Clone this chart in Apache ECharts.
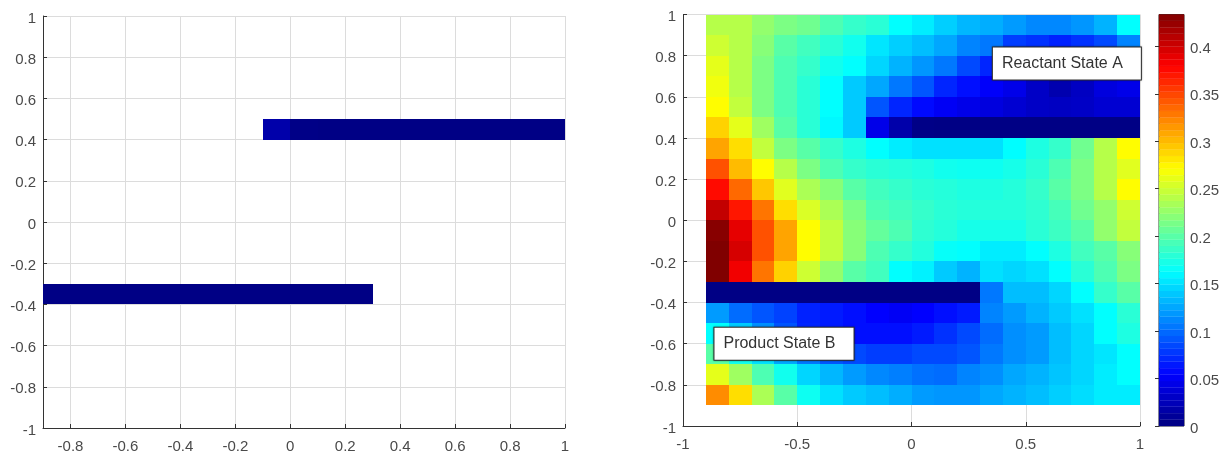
<!DOCTYPE html>
<html>
<head>
<meta charset="utf-8">
<style>html,body{margin:0;padding:0;background:#fff}#c{width:1227px;height:454px}</style>
<script src="https://cdn.jsdelivr.net/npm/echarts@6/dist/echarts.min.js"></script>
</head>
<body>
<div id="c"></div>
<script>
// left edge of each cell column, bottom edge of each row (top row first)
const xEdges = [-0.9,-0.8,-0.7,-0.6,-0.5,-0.4,-0.3,-0.2,-0.1,0,0.1,0.2,0.3,0.4,0.5,0.6,0.7,0.8,0.9];
const yEdges = [0.9,0.8,0.7,0.6,0.5,0.4,0.3,0.2,0.1,0,-0.1,-0.2,-0.3,-0.4,-0.5,-0.6,-0.7,-0.8,-0.9];
const cellSize = 0.1;
const heatValues = [
 [.24,.24,.225,.215,.21,.195,.185,.18,.163,.155,.142,.132,.128,.12,.112,.112,.118,.13,.163],
 [.25,.24,.22,.2,.19,.18,.17,.152,.142,.135,.125,.11,.105,.08,.075,.068,.075,.085,.11],
 [.26,.24,.215,.195,.185,.17,.163,.145,.13,.118,.105,.085,.07,.06,.05,.045,.05,.055,.07],
 [.265,.24,.215,.195,.18,.163,.14,.125,.105,.09,.07,.06,.052,.045,.03,.02,.028,.04,.045],
 [.272,.245,.215,.195,.18,.163,.14,.09,.07,.058,.05,.045,.04,.035,.03,.028,.03,.035,.035],
 [.29,.26,.23,.2,.18,.16,.14,.045,.018,.003,.002,.002,.002,.002,.002,.002,.002,.002,.002],
 [.31,.285,.245,.215,.2,.185,.175,.163,.155,.15,.15,.15,.15,.162,.175,.185,.21,.24,.272],
 [.345,.3,.272,.24,.215,.195,.185,.18,.178,.175,.17,.168,.168,.172,.18,.195,.215,.24,.258],
 [.375,.335,.295,.258,.235,.22,.2,.19,.185,.18,.178,.175,.175,.178,.185,.2,.215,.24,.272],
 [.405,.37,.33,.285,.255,.235,.215,.195,.19,.185,.18,.178,.178,.178,.182,.192,.21,.225,.25],
 [.43,.39,.345,.31,.272,.245,.22,.205,.195,.182,.178,.172,.172,.172,.18,.188,.2,.225,.245],
 [.435,.397,.345,.31,.272,.245,.22,.195,.185,.177,.165,.163,.155,.155,.163,.175,.19,.2,.22],
 [.435,.385,.33,.29,.25,.225,.2,.19,.163,.157,.14,.13,.15,.145,.15,.163,.18,.195,.215],
 [.002,.002,.002,.002,.002,.002,.002,.002,.002,.002,.002,.002,.105,.135,.135,.145,.163,.185,.2],
 [.12,.1,.09,.082,.068,.065,.06,.054,.05,.054,.06,.065,.11,.12,.13,.14,.15,.163,.18],
 [.163,.14,.115,.09,.07,.065,.06,.06,.06,.065,.075,.085,.1,.115,.12,.135,.145,.163,.175],
 [.2,.17,.15,.125,.105,.09,.085,.08,.08,.085,.085,.09,.105,.115,.12,.135,.145,.152,.163],
 [.26,.23,.195,.17,.145,.132,.12,.112,.108,.102,.1,.11,.115,.125,.13,.138,.145,.155,.163],
 [.32,.285,.235,.2,.168,.15,.14,.135,.128,.12,.118,.118,.125,.13,.135,.142,.148,.155,.155]
];
// left panel: only the cells of the two barrier bands
const leftUpperBandX = [-0.1,0,0.1,0.2,0.3,0.4,0.5,0.6,0.7,0.8,0.9];
const leftUpperBandY = 0.4;
const leftUpperBandV = [.018,.003,.002,.002,.002,.002,.002,.002,.002,.002,.002];
const leftLowerBandX = [-0.9,-0.8,-0.7,-0.6,-0.5,-0.4,-0.3,-0.2,-0.1,0,0.1,0.2];
const leftLowerBandY = -0.4;
const leftLowerBandV = [.002,.002,.002,.002,.002,.002,.002,.002,.002,.002,.002,.002];

const leftXTicks = [-0.8,-0.6,-0.4,-0.2,0,0.2,0.4,0.6,0.8,1];
const colorMax = 0.4336;
const jetStops = ['#000080','#0000ff','#0080ff','#00ffff','#80ff80','#ffff00','#ff8000','#ff0000','#800000'];
const colorbarLevelCount = 64;
const annotations = [
  {name:'Reactant State A', x:0.68, y:0.762},
  {name:'Product State B', x:-0.558, y:-0.6}
];

const heatData = [];
yEdges.forEach((y,r)=>xEdges.forEach((x,c)=>heatData.push([x,y,heatValues[r][c]])));
const leftData = leftUpperBandX.map((x,i)=>[x,leftUpperBandY,leftUpperBandV[i]])
  .concat(leftLowerBandX.map((x,i)=>[x,leftLowerBandY,leftLowerBandV[i]]));
const barStep = colorMax/colorbarLevelCount;
const barData = [];
for(let i=0;i<colorbarLevelCount;i++) barData.push([0,i*barStep,(i+0.5)*barStep]);

function cell(params,api){
  const p0=api.coord([api.value(0),api.value(1)+cellSize]);
  const p1=api.coord([api.value(0)+cellSize,api.value(1)]);
  const x=Math.round(p0[0]),y=Math.round(p0[1]);
  return {type:'rect',shape:{x:x,y:y,width:Math.round(p1[0])-x,height:Math.round(p1[1])-y},
    style:{fill:api.visual('color')}};
}
function barCell(params,api){
  const p0=api.coord([0,api.value(1)+barStep]);
  const p1=api.coord([1,api.value(1)]);
  return {type:'rect',shape:{x:p0[0],y:p0[1],width:p1[0]-p0[0],height:p1[1]-p0[1]},
    style:{fill:api.visual('color'),stroke:api.visual('color'),lineWidth:0.3}};
}
const font={fontFamily:'Liberation Sans',fontSize:15,color:'#4a4a4a'};
const yFont={...font,verticalAlign:'top',lineHeight:5};
const axisLine={show:true,onZero:false,lineStyle:{color:'#333',width:1}};
const tick={show:true,inside:true,length:4,lineStyle:{color:'#333',width:1}};
const split={show:true,lineStyle:{color:'#dcdcdc',width:1}};
const fmt=v=>String(+(+v).toFixed(2));

const chart=echarts.init(document.getElementById('c'),null,{renderer:'canvas'});
chart.setOption({
  animation:false,
  backgroundColor:'#fff',
  grid:[
    {left:43,top:16,width:522,height:412},
    {left:683,top:14.5,width:457,height:411.5},
    {left:1159,top:14.5,width:25,height:411.5,show:true,borderColor:'#333',borderWidth:1}
  ],
  xAxis:[
    {gridIndex:0,type:'value',min:-0.9,max:1,axisLine,
      axisTick:{...tick,customValues:leftXTicks},
      axisLabel:{...font,margin:11,customValues:leftXTicks,formatter:fmt,showMinLabel:true,showMaxLabel:true},
      splitLine:split},
    {gridIndex:1,type:'value',min:-1,max:1,interval:0.5,axisLine,axisTick:tick,
      axisLabel:{...font,margin:11,formatter:fmt},splitLine:split},
    {gridIndex:2,type:'value',min:0,max:1,show:false}
  ],
  yAxis:[
    {gridIndex:0,type:'value',min:-1,max:1,interval:0.2,axisLine,axisTick:tick,
      axisLabel:{...yFont,margin:7,formatter:fmt},splitLine:split},
    {gridIndex:1,type:'value',min:-1,max:1,interval:0.2,axisLine,axisTick:tick,
      axisLabel:{...yFont,margin:7,formatter:fmt},splitLine:split},
    {gridIndex:2,type:'value',position:'right',min:0,max:colorMax,interval:0.05,
      axisLine:{show:true,lineStyle:{color:'#333'}},axisTick:tick,
      axisLabel:{...yFont,margin:6,formatter:fmt,showMaxLabel:false},splitLine:{show:false}}
  ],
  visualMap:{show:false,type:'continuous',min:0,max:colorMax,dimension:2,seriesIndex:[0,1,2],
    inRange:{color:jetStops}},
  series:[
    {type:'custom',xAxisIndex:0,yAxisIndex:0,renderItem:cell,data:leftData,encode:{x:0,y:1},z:2,silent:true},
    {type:'custom',xAxisIndex:1,yAxisIndex:1,renderItem:cell,data:heatData,encode:{x:0,y:1},z:2,silent:true},
    {type:'custom',xAxisIndex:2,yAxisIndex:2,renderItem:barCell,data:barData,encode:{x:0,y:1},z:2,silent:true},
    {type:'scatter',xAxisIndex:1,yAxisIndex:1,symbolSize:0,z:5,silent:true,
      itemStyle:{opacity:1},
      data:annotations.map(a=>({value:[a.x,a.y],name:a.name})),
      label:{show:true,opacity:1,position:'inside',formatter:'{b}',fontFamily:'Liberation Sans',fontSize:16,color:'#333',
        padding:[8,18,8,9],backgroundColor:'#ffffff',borderColor:'#333',borderWidth:1,
        shadowColor:'rgba(0,0,0,0.35)',shadowBlur:2}}
  ]
});
</script>
</body>
</html>
